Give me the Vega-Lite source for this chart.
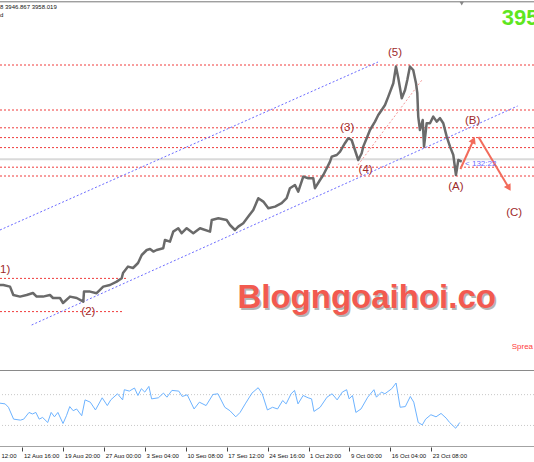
{
"$schema": "https://vega.github.io/schema/vega-lite/v6.json",
"background": "white",
"padding": 0,
"spacing": 0,
"bounds": "flush",
"config": {"view": {"stroke": null}, "font": "Liberation Sans"},
"datasets": {
"price": [
{"b":0,"p":3350},{"b":2.5,"p":3350},{"b":7.6,"p":3342},{"b":10.1,"p":3300},{"b":15.2,"p":3292},{"b":20.2,"p":3300},{"b":25,"p":3310},{"b":27.8,"p":3292},{"b":32.6,"p":3292},{"b":37.9,"p":3300},{"b":40.2,"p":3285},{"b":45.5,"p":3285},{"b":47.8,"p":3260},{"b":53.1,"p":3292},{"b":58.2,"p":3285},{"b":63.2,"p":3267},{"b":63.7,"p":3317},{"b":68.3,"p":3317},{"b":73.3,"p":3309},{"b":78.3,"p":3342},{"b":83.4,"p":3350},{"b":88.5,"p":3367},{"b":92.3,"p":3384},{"b":93.3,"p":3410},{"b":97.1,"p":3442},{"b":100.9,"p":3435},{"b":104.7,"p":3460},{"b":107.5,"p":3500},{"b":111.3,"p":3525},{"b":113.8,"p":3530},{"b":116.3,"p":3517},{"b":118.8,"p":3525},{"b":123.8,"p":3534},{"b":125.1,"p":3575},{"b":128.9,"p":3567},{"b":131.4,"p":3617},{"b":135.2,"p":3634},{"b":137.8,"p":3609},{"b":141.6,"p":3634},{"b":146.6,"p":3609},{"b":151.7,"p":3634},{"b":159.3,"p":3617},{"b":160.6,"p":3675},{"b":165.6,"p":3684},{"b":171.9,"p":3675},{"b":174.4,"p":3650},{"b":178.2,"p":3625},{"b":180.7,"p":3642},{"b":184.5,"p":3659},{"b":188.3,"p":3692},{"b":192.1,"p":3725},{"b":195.9,"p":3784},{"b":199.7,"p":3767},{"b":203.5,"p":3734},{"b":208.6,"p":3742},{"b":213.6,"p":3759},{"b":217.4,"p":3784},{"b":219.9,"p":3834},{"b":223.7,"p":3850},{"b":226.2,"p":3817},{"b":230,"p":3892},{"b":233.8,"p":3884},{"b":237.6,"p":3884},{"b":238.9,"p":3834},{"b":242.7,"p":3875},{"b":245.2,"p":3900},{"b":247.8,"p":3934},{"b":250.3,"p":3967},{"b":251.6,"p":3992},{"b":255.4,"p":4000},{"b":257.9,"p":4017},{"b":261.6,"p":4059},{"b":264.1,"p":4084},{"b":266.7,"p":4075},{"b":269.2,"p":4025},{"b":271.7,"p":3975},{"b":274.3,"p":4009},{"b":275.5,"p":4042},{"b":278.1,"p":4084},{"b":280.6,"p":4125},{"b":284.4,"p":4167},{"b":286.9,"p":4200},{"b":289.5,"p":4225},{"b":292,"p":4250},{"b":294.5,"p":4292},{"b":298.3,"p":4359},{"b":300.3,"p":4442},{"b":302.1,"p":4384},{"b":303.4,"p":4334},{"b":304.7,"p":4284},{"b":307.2,"p":4325},{"b":308.9,"p":4375},{"b":310.9,"p":4442},{"b":313.4,"p":4425},{"b":315.5,"p":4359},{"b":316.5,"p":4309},{"b":317.2,"p":4192},{"b":318.5,"p":4125},{"b":320.6,"p":4175},{"b":321.6,"p":4042},{"b":323.6,"p":4159},{"b":326.1,"p":4159},{"b":328.6,"p":4192},{"b":331.2,"p":4167},{"b":333.7,"p":4184},{"b":336.2,"p":4159},{"b":338.8,"p":4092},{"b":341.3,"p":4042},{"b":343.8,"p":4000},{"b":345.8,"p":3900},{"b":347.6,"p":3975},{"b":350.2,"p":3967}
],
"hlev": [{"p":4450},{"p":4225},{"p":4136},{"p":4087},{"p":4037},{"p":3939},{"p":3895}],
"cur": [{"p":3978.5}],
"frame": [{"p":4766}],
"plev": [{"b0":0,"b1":97.1,"p":3383},{"b0":0,"b1":93.5,"p":3217}],
"diag": [
{"b0":0,"p0":3625,"b1":286.7,"p1":4465,"c":"#6b6bff"},
{"b0":24,"p0":3150,"b1":392.6,"p1":4245,"c":"#6b6bff"},
{"b0":271.5,"p0":3950,"b1":320,"p1":4375,"c":"#f59a9a"}
],
"arrows": [
{"b0":349.2,"p0":3930,"b1":359.1,"p1":4075,"a":24},
{"b0":362.9,"p0":4090,"b1":386,"p1":3835,"a":149}
],
"waves": [
{"t":"(5)","b":299.6,"p":4508},{"t":"(3)","b":263.4,"p":4133},{"t":"(4)","b":277.3,"p":3925},
{"t":"(B)","b":358.5,"p":4171},{"t":"(A)","b":345.8,"p":3841},{"t":"(C)","b":390,"p":3708},{"t":"(2)","b":67,"p":3216}
],
"wave1": [{"t":"1)","b":0,"p":3425}],
"notes": [
{"t":"8 3946.867 3958.019","b":0,"p":4742,"s":6,"c":"#111111"},
{"t":"d","b":0,"p":4700,"s":6,"c":"#111111"},
{"t":"< 132:22","b":352.7,"p":3955,"s":8,"c":"#6b6bff"},
{"t":"Sprea","b":388.1,"p":3041,"s":8,"c":"#ff3b3b"}
],
"big": [{"t":"395","b":380.5,"p":4650}],
"wm": [{"t":"Blogngoaihoi.co","b":278.1,"p":3237}],
"tri": [{"b":350.2,"p":4757}],
"osc": [
{"b":0,"v":58.9},{"b":3.9,"v":58},{"b":6.4,"v":53.6},{"b":10.3,"v":38.2},{"b":15.5,"v":36.9},{"b":18,"v":38.2},{"b":22,"v":46.9},{"b":24.6,"v":44.9},{"b":27.2,"v":46.9},{"b":29.7,"v":38.2},{"b":32.3,"v":40.4},{"b":36.2,"v":33.8},{"b":38.8,"v":46.9},{"b":41.3,"v":41.2},{"b":43.9,"v":46.9},{"b":47.8,"v":32.5},{"b":50.4,"v":42.6},{"b":52.9,"v":54.5},{"b":55.5,"v":49.1},{"b":58.1,"v":51.4},{"b":62,"v":42.6},{"b":64.5,"v":63.2},{"b":68.5,"v":60.2},{"b":72.4,"v":50.1},{"b":77.5,"v":65.9},{"b":81.4,"v":55.8},{"b":84,"v":63.2},{"b":89.1,"v":71.1},{"b":93,"v":63.2},{"b":94.3,"v":76.4},{"b":98.1,"v":74.6},{"b":102,"v":78.6},{"b":104.6,"v":68.9},{"b":107.2,"v":77.7},{"b":109.8,"v":73.3},{"b":112.9,"v":80.7},{"b":115,"v":64.5},{"b":120.1,"v":65.9},{"b":124,"v":72},{"b":126.6,"v":66.7},{"b":130.4,"v":75.5},{"b":135.6,"v":74.6},{"b":138.2,"v":67.6},{"b":142,"v":69.8},{"b":147.2,"v":51.4},{"b":151.2,"v":60.2},{"b":156.3,"v":55.8},{"b":161.5,"v":70.2},{"b":165.3,"v":71.1},{"b":170.5,"v":53.6},{"b":174.4,"v":49.1},{"b":178.8,"v":41.2},{"b":182.1,"v":46.9},{"b":186,"v":58},{"b":191.1,"v":72},{"b":195.8,"v":79},{"b":198.9,"v":71.1},{"b":202.8,"v":50.1},{"b":206.7,"v":53.6},{"b":210.5,"v":51.4},{"b":214.4,"v":62.4},{"b":217,"v":58},{"b":220.8,"v":71.1},{"b":223.4,"v":75.5},{"b":226,"v":58},{"b":229.9,"v":68.9},{"b":233.7,"v":65.9},{"b":236.3,"v":64.5},{"b":238.1,"v":48.2},{"b":242.8,"v":53.6},{"b":248,"v":66.7},{"b":251.9,"v":71.1},{"b":255.7,"v":63.2},{"b":259.6,"v":73.3},{"b":262.9,"v":76.4},{"b":264.8,"v":64.5},{"b":267.3,"v":68.9},{"b":269.9,"v":46.9},{"b":273.8,"v":51.4},{"b":278.9,"v":66.7},{"b":283.6,"v":76.4},{"b":285.5,"v":66.7},{"b":289.3,"v":73.3},{"b":291.9,"v":71.1},{"b":297.1,"v":77.7},{"b":300.4,"v":85.1},{"b":303.5,"v":53.6},{"b":307.4,"v":54.5},{"b":311.2,"v":67.6},{"b":313.8,"v":60.2},{"b":317.2,"v":33.8},{"b":320.3,"v":30.7},{"b":322.8,"v":38.2},{"b":326.8,"v":43.9},{"b":330.7,"v":41.2},{"b":334.5,"v":45.6},{"b":338.4,"v":39.5},{"b":341,"v":33.8},{"b":345.6,"v":26.4},{"b":348.7,"v":33.8}
],
"olev": [{"v":70},{"v":30}],
"osep": [{"v":102}],
"obot": [{"v":2}]
},
"vconcat": [
{
"width": 534, "height": 370,
"layer": [
{"data":{"name":"hlev"},"mark":{"type":"rule","color":"#f03c3c","strokeDash":[2,2],"strokeWidth":1,"clip":true},
 "encoding":{"y":{"field":"p","type":"quantitative","scale":{"domain":[2925,4775],"nice":false,"zero":false},"axis":null}}},
{"data":{"name":"cur"},"mark":{"type":"rule","color":"#dadada","strokeWidth":2,"clip":true},
 "encoding":{"y":{"field":"p","type":"quantitative","scale":{"domain":[2925,4775],"nice":false,"zero":false},"axis":null}}},
{"data":{"name":"frame"},"mark":{"type":"rule","color":"#777777","strokeWidth":1,"clip":true},
 "encoding":{"y":{"field":"p","type":"quantitative","scale":{"domain":[2925,4775],"nice":false,"zero":false},"axis":null}}},
{"data":{"name":"plev"},"mark":{"type":"rule","color":"#f03c3c","strokeDash":[2,2],"strokeWidth":1,"clip":true},
 "encoding":{"x":{"field":"b0","type":"quantitative","scale":{"domain":[0,405],"nice":false,"zero":false},"axis":null},"x2":{"field":"b1"},
 "y":{"field":"p","type":"quantitative","scale":{"domain":[2925,4775],"nice":false,"zero":false},"axis":null}}},
{"data":{"name":"diag"},"mark":{"type":"rule","strokeDash":[2,2],"strokeWidth":1,"clip":true},
 "encoding":{"x":{"field":"b0","type":"quantitative","scale":{"domain":[0,405],"nice":false,"zero":false},"axis":null},"x2":{"field":"b1"},
 "y":{"field":"p0","type":"quantitative","scale":{"domain":[2925,4775],"nice":false,"zero":false},"axis":null},"y2":{"field":"p1"},
 "color":{"field":"c","type":"nominal","scale":null}}},
{"data":{"name":"price"},"mark":{"type":"line","color":"#6a6a6a","strokeWidth":2.5,"strokeJoin":"round","clip":true},
 "encoding":{"x":{"field":"b","type":"quantitative","scale":{"domain":[0,405],"nice":false,"zero":false},"axis":null},
 "y":{"field":"p","type":"quantitative","scale":{"domain":[2925,4775],"nice":false,"zero":false},"axis":null}}},
{"data":{"name":"arrows"},"mark":{"type":"rule","color":"#f26b5b","strokeWidth":2,"clip":true},
 "encoding":{"x":{"field":"b0","type":"quantitative","scale":{"domain":[0,405],"nice":false,"zero":false},"axis":null},"x2":{"field":"b1"},
 "y":{"field":"p0","type":"quantitative","scale":{"domain":[2925,4775],"nice":false,"zero":false},"axis":null},"y2":{"field":"p1"}}},
{"data":{"name":"arrows"},"mark":{"type":"point","shape":"triangle-up","filled":true,"size":60,"color":"#f26b5b","opacity":1,"clip":true},
 "encoding":{"x":{"field":"b1","type":"quantitative","scale":{"domain":[0,405],"nice":false,"zero":false},"axis":null},
 "y":{"field":"p1","type":"quantitative","scale":{"domain":[2925,4775],"nice":false,"zero":false},"axis":null},
 "angle":{"field":"a","type":"quantitative","scale":null}}},
{"data":{"name":"tri"},"mark":{"type":"point","shape":"triangle-down","filled":true,"size":18,"color":"#888888","opacity":1,"clip":true},
 "encoding":{"x":{"field":"b","type":"quantitative","scale":{"domain":[0,405],"nice":false,"zero":false},"axis":null},
 "y":{"field":"p","type":"quantitative","scale":{"domain":[2925,4775],"nice":false,"zero":false},"axis":null}}},
{"data":{"name":"waves"},"mark":{"type":"text","fontSize":11.5,"color":"#9e2a2b","align":"center","baseline":"middle","clip":true},
 "encoding":{"x":{"field":"b","type":"quantitative","scale":{"domain":[0,405],"nice":false,"zero":false},"axis":null},
 "y":{"field":"p","type":"quantitative","scale":{"domain":[2925,4775],"nice":false,"zero":false},"axis":null},"text":{"field":"t"}}},
{"data":{"name":"wave1"},"mark":{"type":"text","fontSize":11.5,"color":"#9e2a2b","align":"left","baseline":"middle","clip":true},
 "encoding":{"x":{"field":"b","type":"quantitative","scale":{"domain":[0,405],"nice":false,"zero":false},"axis":null},
 "y":{"field":"p","type":"quantitative","scale":{"domain":[2925,4775],"nice":false,"zero":false},"axis":null},"text":{"field":"t"}}},
{"data":{"name":"notes"},"mark":{"type":"text","align":"left","baseline":"middle","clip":true},
 "encoding":{"x":{"field":"b","type":"quantitative","scale":{"domain":[0,405],"nice":false,"zero":false},"axis":null},
 "y":{"field":"p","type":"quantitative","scale":{"domain":[2925,4775],"nice":false,"zero":false},"axis":null},"text":{"field":"t"},
 "size":{"field":"s","type":"quantitative","scale":null},"color":{"field":"c","type":"nominal","scale":null}}},
{"data":{"name":"big"},"mark":{"type":"text","fontSize":22,"fontWeight":"bold","color":"#5ee61e","align":"left","baseline":"alphabetic","clip":true},
 "encoding":{"x":{"field":"b","type":"quantitative","scale":{"domain":[0,405],"nice":false,"zero":false},"axis":null},
 "y":{"field":"p","type":"quantitative","scale":{"domain":[2925,4775],"nice":false,"zero":false},"axis":null},"text":{"field":"t"}}},
{"data":{"name":"wm"},"mark":{"type":"text","fontSize":33,"fontWeight":"bold","color":"#b5b5b5","align":"center","baseline":"alphabetic","dx":1.5,"dy":2,"clip":true},
 "encoding":{"x":{"field":"b","type":"quantitative","scale":{"domain":[0,405],"nice":false,"zero":false},"axis":null},
 "y":{"field":"p","type":"quantitative","scale":{"domain":[2925,4775],"nice":false,"zero":false},"axis":null},"text":{"field":"t"}}},
{"data":{"name":"wm"},"mark":{"type":"text","fontSize":33,"fontWeight":"bold","color":"#f25a50","align":"center","baseline":"alphabetic","clip":true},
 "encoding":{"x":{"field":"b","type":"quantitative","scale":{"domain":[0,405],"nice":false,"zero":false},"axis":null},
 "y":{"field":"p","type":"quantitative","scale":{"domain":[2925,4775],"nice":false,"zero":false},"axis":null},"text":{"field":"t"}}}
]
},
{
"width": 534, "height": 77,
"layer": [
{"data":{"name":"olev"},"mark":{"type":"rule","color":"#c8c8c8","strokeDash":[1,2],"strokeWidth":1,"clip":true},
 "encoding":{"y":{"field":"v","type":"quantitative","scale":{"domain":[2,102],"nice":false,"zero":false},"axis":null}}},
{"data":{"name":"osep"},"mark":{"type":"rule","color":"#8a8a8a","strokeWidth":2,"clip":true},
 "encoding":{"y":{"field":"v","type":"quantitative","scale":{"domain":[2,102],"nice":false,"zero":false},"axis":null}}},
{"data":{"name":"obot"},"mark":{"type":"rule","color":"#858585","strokeWidth":1.5,"clip":true},
 "encoding":{"y":{"field":"v","type":"quantitative","scale":{"domain":[2,102],"nice":false,"zero":false},"axis":null}}},
{"data":{"name":"osc"},"mark":{"type":"line","color":"#6db3ff","strokeWidth":1,"strokeJoin":"round","clip":true},
 "encoding":{"x":{"field":"b","type":"quantitative","scale":{"domain":[0,405],"nice":false,"zero":false},
  "axis":{"title":null,"values":[0,17,48,79,110,141,172,203,234,265,296,327],
   "labelExpr":"['12:00','12 Aug 16:00','19 Aug 20:00','27 Aug 00:00','3 Sep 04:00','10 Sep 08:00','17 Sep 12:00','24 Sep 16:00','1 Oct 20:00','9 Oct 00:00','16 Oct 04:00','23 Oct 08:00'][datum.value == 0 ? 0 : round((datum.value - 17) / 31) + 1]",
   "labelAlign":"left","labelOffset":1,"labelFontSize":6,"labelColor":"#111111","labelFont":"Liberation Sans","labelPadding":1,
   "labelOverlap":false,"labelFlush":false,"labelBound":false,"tickSize":4,"tickColor":"#444444","tickWidth":1,
   "tickOpacity":{"condition":{"test":"datum.value == 0","value":0},"value":1},
   "domain":false,"grid":false}},
 "y":{"field":"v","type":"quantitative","scale":{"domain":[2,102],"nice":false,"zero":false},"axis":null}}}
]
}
]
}
